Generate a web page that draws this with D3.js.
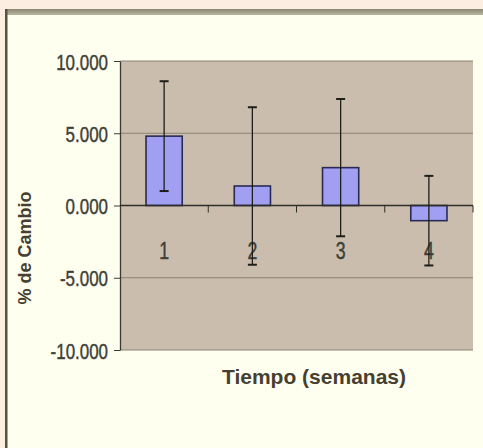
<!DOCTYPE html>
<html>
<head>
<meta charset="utf-8">
<script src="https://cdn.jsdelivr.net/npm/d3@7"></script>
<style>
  html, body { margin: 0; padding: 0; background: #fcefe1; }
  svg { display: block; }
  .tick-label { font-family: "Liberation Sans", Arial, sans-serif; fill: #3f3f37; stroke: #3f3f37; stroke-width: 0.45; }
  .title { font-family: "Liberation Sans", Arial, sans-serif; font-weight: bold; fill: #454030; }
</style>
</head>
<body>
<script>
'use strict';

// data
const weeks = ["1", "2", "3", "4"];
const changes = [4.8, 1.35, 2.62, -1.05];
const errors = [3.8, 5.45, 4.75, 3.1];
const yTicks = [-10, -5, 0, 5, 10];
const yTickLabels = ["-10.000", "-5.000", "0.000", "5.000", "10.000"];

const width = 483,
      height = 448,
      plot = {left: 120, right: 473, top: 61, bottom: 350};

const svg = d3.select("body").append("svg")
  .attr("width", width)
  .attr("height", height);

// frame: peach page, cream panel, grey top rule and dark left rule
const defs = svg.append("defs");
const grad = defs.append("linearGradient")
  .attr("id", "topRule")
  .attr("x1", 0).attr("y1", 0).attr("x2", 0).attr("y2", 1);
grad.append("stop").attr("offset", "0%").attr("stop-color", "#8a8672");
grad.append("stop").attr("offset", "100%").attr("stop-color", "#b9b6a2");

svg.append("rect")
  .attr("width", width).attr("height", height)
  .attr("fill", "#fcefe1");
svg.append("rect")
  .attr("x", 5).attr("y", 9)
  .attr("width", width - 5).attr("height", height - 9)
  .attr("fill", "#fffff0");
svg.append("rect")
  .attr("x", 5).attr("y", 9)
  .attr("width", width - 5).attr("height", 6)
  .attr("fill", "url(#topRule)");
svg.append("rect")
  .attr("x", 5).attr("y", 9)
  .attr("width", 2.5).attr("height", height - 9)
  .attr("fill", "#56543f");

const x = d3.scaleBand(weeks, [plot.left, plot.right]);
const y = d3.scaleLinear([-10, 10], [plot.bottom, plot.top]);

// plot area
svg.append("rect")
  .attr("x", plot.left).attr("y", plot.top)
  .attr("width", plot.right - plot.left)
  .attr("height", plot.bottom - plot.top)
  .attr("fill", "#cabdae");

// gridlines
svg.append("g")
  .selectAll("line")
  .data(yTicks.filter(d => d !== 0))
  .join("line")
  .attr("x1", plot.left).attr("x2", plot.right)
  .attr("y1", d => y(d)).attr("y2", d => y(d))
  .attr("stroke", "#8c8370")
  .attr("stroke-width", 1.2);

// y axis
const yAxis = d3.axisLeft(y)
  .tickValues(yTicks)
  .tickFormat((d, i) => yTickLabels[i])
  .tickSizeInner(6)
  .tickSizeOuter(0)
  .tickPadding(5);
const gy = svg.append("g")
  .attr("transform", `translate(${plot.left},0)`)
  .call(yAxis);
gy.select(".domain").attr("stroke", "#3b3a30").attr("stroke-width", 1.3);
gy.selectAll(".tick line").attr("stroke", "#3b3a30");
gy.selectAll(".tick text").remove();
gy.selectAll(".tick")
  .append("text")
  .attr("class", "tick-label")
  .attr("text-anchor", "end")
  .attr("font-size", 22)
  .attr("transform", "translate(-12,8) scale(0.77,1)")
  .text((d, i) => yTickLabels[i]);

// bars
const barW = x.bandwidth() * 0.41;
svg.append("g")
  .selectAll("rect")
  .data(changes)
  .join("rect")
  .attr("x", (d, i) => x(weeks[i]) + (x.bandwidth() - barW) / 2)
  .attr("y", d => y(Math.max(d, 0)))
  .attr("width", barW)
  .attr("height", d => Math.abs(y(d) - y(0)))
  .attr("fill", "#a19ff2")
  .attr("stroke", "#2a2a55")
  .attr("stroke-width", 1.6);

// zero axis with category ticks
svg.append("line")
  .attr("x1", plot.left).attr("x2", plot.right)
  .attr("y1", y(0)).attr("y2", y(0))
  .attr("stroke", "#2f2e26")
  .attr("stroke-width", 1.5);
svg.append("g")
  .selectAll("line")
  .data(weeks.slice(1).concat(["end"]))
  .join("line")
  .attr("x1", d => d === "end" ? plot.right : x(d))
  .attr("x2", d => d === "end" ? plot.right : x(d))
  .attr("y1", y(0)).attr("y2", y(0) + 7)
  .attr("stroke", "#2f2e26");

// category labels sit well below the axis
svg.append("g")
  .selectAll("text")
  .data(weeks)
  .join("text")
  .attr("class", "tick-label")
  .attr("text-anchor", "middle")
  .attr("font-size", 23)
  .attr("transform", d => `translate(${x(d) + x.bandwidth() / 2},${y(0) + 53}) scale(0.77,1)`)
  .text(d => d);

// error bars
const eb = svg.append("g")
  .attr("stroke", "#1e1e18")
  .attr("stroke-width", 1.3);
changes.forEach((v, i) => {
  const cx = x(weeks[i]) + x.bandwidth() / 2;
  const hi = y(v + errors[i]), lo = y(v - errors[i]);
  eb.append("line").attr("x1", cx).attr("x2", cx).attr("y1", hi).attr("y2", lo);
  eb.append("line").attr("x1", cx - 4.5).attr("x2", cx + 4.5).attr("y1", hi).attr("y2", hi).attr("stroke-width", 2);
  eb.append("line").attr("x1", cx - 4.5).attr("x2", cx + 4.5).attr("y1", lo).attr("y2", lo).attr("stroke-width", 2);
});

// axis titles
svg.append("text")
  .attr("class", "title")
  .attr("font-size", 21)
  .attr("text-anchor", "middle")
  .attr("x", 314)
  .attr("y", 384)
  .text("Tiempo (semanas)");

svg.append("text")
  .attr("class", "title")
  .attr("font-size", 18)
  .attr("text-anchor", "middle")
  .attr("transform", "translate(31,248) rotate(-90)")
  .text("% de Cambio");
</script>
</body>
</html>
